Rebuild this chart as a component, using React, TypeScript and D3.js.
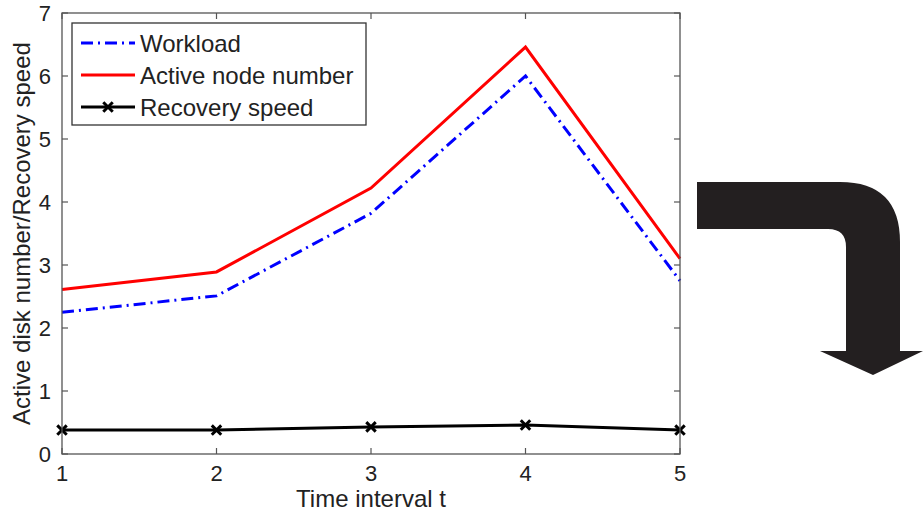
import React from "react";
import * as d3 from "d3";

// time intervals 1..5
const intervals = [1, 2, 3, 4, 5];
const workload = [2.25, 2.51, 3.82, 6.0, 2.75];
const activeNodes = [2.61, 2.89, 4.22, 6.46, 3.1];
const recoverySpeed = [0.38, 0.38, 0.43, 0.46, 0.38];

const xTicks = [1, 2, 3, 4, 5];
const yTicks = [0, 1, 2, 3, 4, 5, 6, 7];

const seriesNames = ["Workload", "Active node number", "Recovery speed"];

const W = 924;
const H = 515;
const plot = { left: 62, right: 680, top: 13, bottom: 454 };

export default function App() {
  const x = d3.scaleLinear().domain([1, 5]).range([plot.left, plot.right]);
  const y = d3.scaleLinear().domain([0, 7]).range([plot.bottom, plot.top]);

  const line = d3
    .line<number>()
    .x((_, i) => x(intervals[i]))
    .y((d) => y(d));

  const xMark = d3.symbol(d3.symbolX, 60)() || "";
  const font = "Arial, 'Liberation Sans', sans-serif";
  const axisColor = "#555";
  const tickLen = 6;

  // legend layout
  const lg = { x: 72, y: 23, w: 294, h: 102 };
  const rowY = [43, 75, 107];

  return (
    <div style={{ position: "absolute", left: 0, top: 0, width: W, height: H, background: "#fff" }}>
      <svg width={W} height={H} style={{ display: "block" }} fontFamily={font}>
        {/* lines */}
        <path d={line(workload) || ""} fill="none" stroke="#0000ff" strokeWidth={3} strokeDasharray="12,5,2,5" />
        <path d={line(activeNodes) || ""} fill="none" stroke="#ff0000" strokeWidth={3} />
        <path d={line(recoverySpeed) || ""} fill="none" stroke="#000" strokeWidth={3} />
        {recoverySpeed.map((v, i) => (
          <path key={i} d={xMark} transform={`translate(${x(intervals[i])},${y(v)})`} stroke="#000" strokeWidth={3} fill="none" />
        ))}

        {/* frame */}
        <rect x={plot.left} y={plot.top} width={plot.right - plot.left} height={plot.bottom - plot.top} fill="none" stroke={axisColor} strokeWidth={1.3} />

        {/* x ticks */}
        {xTicks.map((t) => (
          <g key={"x" + t}>
            <line x1={x(t)} x2={x(t)} y1={plot.bottom} y2={plot.bottom - tickLen} stroke={axisColor} strokeWidth={1.2} />
            <line x1={x(t)} x2={x(t)} y1={plot.top} y2={plot.top + tickLen} stroke={axisColor} strokeWidth={1.2} />
            <text x={x(t)} y={481} fontSize={22} textAnchor="middle" fill="#222">
              {t}
            </text>
          </g>
        ))}

        {/* y ticks */}
        {yTicks.map((t) => (
          <g key={"y" + t}>
            <line x1={plot.left} x2={plot.left + tickLen} y1={y(t)} y2={y(t)} stroke={axisColor} strokeWidth={1.2} />
            <line x1={plot.right} x2={plot.right - tickLen} y1={y(t)} y2={y(t)} stroke={axisColor} strokeWidth={1.2} />
            <text x={51} y={y(t)} dy="0.36em" fontSize={22} textAnchor="end" fill="#222">
              {t}
            </text>
          </g>
        ))}

        {/* axis titles */}
        <text x={x(3)} y={507} fontSize={24} textAnchor="middle" fill="#222">
          Time interval t
        </text>
        <text transform={`translate(30,${(plot.top + plot.bottom) / 2}) rotate(-90)`} fontSize={24} textAnchor="middle" fill="#222">
          Active disk number/Recovery speed
        </text>

        {/* legend */}
        <rect x={lg.x} y={lg.y} width={lg.w} height={lg.h} fill="#fff" stroke="#333" strokeWidth={1.3} />
        <line x1={81} x2={135} y1={rowY[0]} y2={rowY[0]} stroke="#0000ff" strokeWidth={3} strokeDasharray="12,5,2,5" />
        <line x1={81} x2={135} y1={rowY[1]} y2={rowY[1]} stroke="#ff0000" strokeWidth={3} />
        <line x1={81} x2={135} y1={rowY[2]} y2={rowY[2]} stroke="#000" strokeWidth={3} />
        <path d={xMark} transform={`translate(108,${rowY[2]})`} stroke="#000" strokeWidth={3} fill="none" />
        {seriesNames.map((n, i) => (
          <text key={n} x={140} y={rowY[i]} dy="0.36em" fontSize={24} fill="#222">
            {n}
          </text>
        ))}

        {/* bent arrow */}
        <path
          d="M697,182 L840,182 Q900,182 900,242 L900,351 L923,351 L873,375 L820,351 L846,351 L846,247 Q846,229 828,229 L697,229 Z"
          fill="#231f20"
        />
      </svg>
    </div>
  );
}
